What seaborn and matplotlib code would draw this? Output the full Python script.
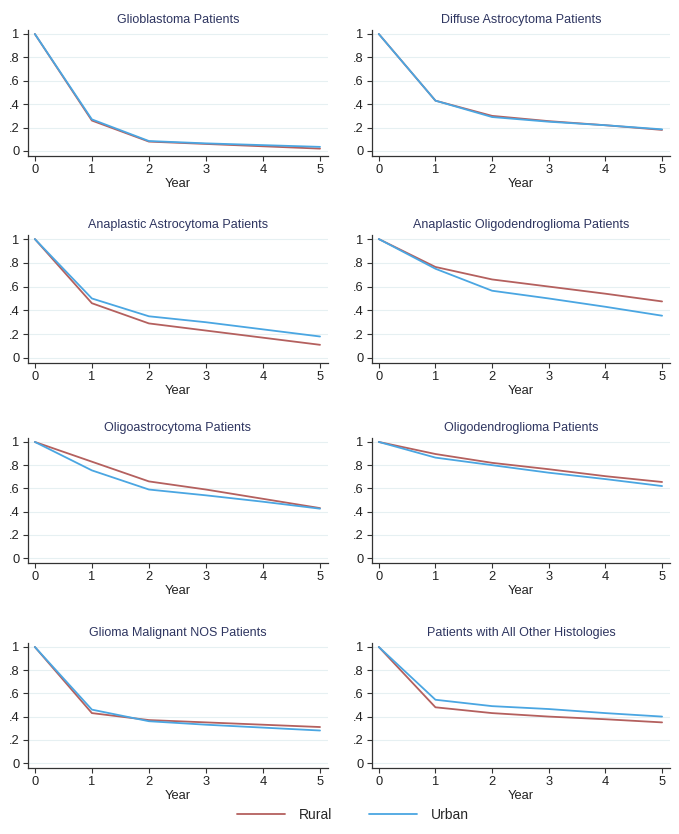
import numpy as np
import pandas as pd
import matplotlib
matplotlib.use("Agg")
import matplotlib.pyplot as plt
import seaborn as sns
from matplotlib.lines import Line2D

years = [0, 1, 2, 3, 4, 5]
titles = [
    "Glioblastoma Patients",
    "Diffuse Astrocytoma Patients",
    "Anaplastic Astrocytoma Patients",
    "Anaplastic Oligodendroglioma Patients",
    "Oligoastrocytoma Patients",
    "Oligodendroglioma Patients",
    "Glioma Malignant NOS Patients",
    "Patients with All Other Histologies",
]
rural = [
    [1, 0.26, 0.080, 0.060, 0.040, 0.020],
    [1, 0.43, 0.300, 0.255, 0.220, 0.180],
    [1, 0.46, 0.290, 0.230, 0.170, 0.110],
    [1, 0.765, 0.660, 0.600, 0.540, 0.475],
    [1, 0.830, 0.660, 0.590, 0.510, 0.430],
    [1, 0.896, 0.820, 0.765, 0.705, 0.655],
    [1, 0.430, 0.370, 0.350, 0.330, 0.310],
    [1, 0.480, 0.430, 0.400, 0.377, 0.350],
]
urban = [
    [1, 0.27, 0.085, 0.065, 0.050, 0.035],
    [1, 0.43, 0.290, 0.250, 0.220, 0.185],
    [1, 0.50, 0.350, 0.300, 0.240, 0.180],
    [1, 0.750, 0.565, 0.500, 0.430, 0.355],
    [1, 0.755, 0.590, 0.540, 0.485, 0.425],
    [1, 0.865, 0.800, 0.735, 0.680, 0.620],
    [1, 0.460, 0.360, 0.330, 0.305, 0.280],
    [1, 0.545, 0.490, 0.465, 0.430, 0.400],
]
groups = ["Rural", "Urban"]
ytick_vals = [0, 0.2, 0.4, 0.6, 0.8, 1]
ytick_labels = ["0", ".2", ".4", ".6", ".8", "1"]

colors = {"Rural": "#b4605e", "Urban": "#4aa6e2"}

sns.set_theme(style="white")
plt.rcParams["font.family"] = ["Liberation Sans", "DejaVu Sans"]

W, H = 679, 834
fig = plt.figure(figsize=(W / 100, H / 100), dpi=100)

col_lr = [(28, 328), (372, 670)]
row_tb = [(30, 156), (235, 363), (438, 563), (643, 768)]

for i, title in enumerate(titles):
    r, c = divmod(i, 2)
    l, rr = col_lr[c]
    t, b = row_tb[r]
    ax = fig.add_axes([l / W, 1 - b / H, (rr - l) / W, (b - t) / H])
    df = pd.DataFrame({
        "Year": years * 2,
        "Survival": rural[i] + urban[i],
        "Group": ["Rural"] * 6 + ["Urban"] * 6,
    })
    sns.lineplot(data=df, x="Year", y="Survival", hue="Group", hue_order=groups,
                 palette=colors, linewidth=1.3, legend=False, ax=ax)
    ax.set_xlim(-0.12, 5.14)
    ax.set_ylim(-0.043, 1.034)
    ax.set_xticks(years)
    ax.set_yticks(ytick_vals)
    ax.set_yticklabels(ytick_labels)
    ax.yaxis.grid(True, color="#e6f0f2", linewidth=0.8)
    ax.xaxis.grid(False)
    for s in ["top", "right"]:
        ax.spines[s].set_visible(False)
    for s in ["left", "bottom"]:
        ax.spines[s].set_color("#333333")
        ax.spines[s].set_linewidth(0.9)
    ax.tick_params(axis="both", which="major", length=3.5, width=0.8,
                   color="#333333", labelsize=9.3, labelcolor="#222222", pad=2.5,
                   direction="out", left=True, bottom=True)
    ax.set_ylabel("")
    ax.set_xlabel("Year", fontsize=9.3, color="#222222", labelpad=1.5)
    ax.set_title(title, fontsize=9, color="#2e3560", pad=5)

handles = [Line2D([0], [0], color=colors[g], linewidth=1.3) for g in groups]
fig.legend(handles, groups, loc="center", bbox_to_anchor=(0.52, 1 - 815 / H),
           ncol=2, frameon=False, fontsize=10, handlelength=3.5,
           columnspacing=2.6, handletextpad=1.0)

fig.savefig("out.png", dpi=100, facecolor="white")
